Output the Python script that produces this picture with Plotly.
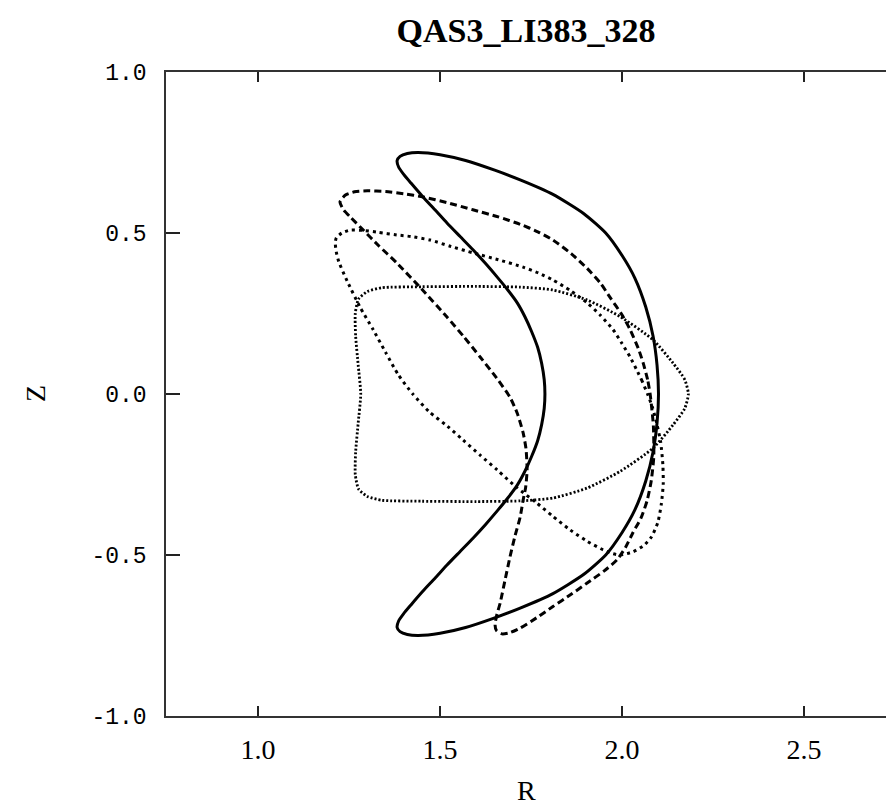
import plotly.graph_objects as go

title_text = "QAS3_LI383_328"
x_label = "R"
y_label = "Z"
x_ticks = [1.0, 1.5, 2.0, 2.5]
x_ticklabels = ["1.0", "1.5", "2.0", "2.5"]
y_ticks = [-1.0, -0.5, 0.0, 0.5, 1.0]
y_ticklabels = ["-1.0", "-0.5", "0.0", "0.5", "1.0"]

# phi = 0 cross-section (solid crescent)
r_solid = [2.100, 2.096, 2.085, 2.065, 2.035, 2.000, 1.955, 1.895, 1.810, 1.720, 1.650, 1.570,
           1.500, 1.440, 1.410, 1.390, 1.382, 1.386, 1.400, 1.420, 1.453, 1.486, 1.519, 1.555,
           1.591, 1.625, 1.657, 1.686, 1.712, 1.733, 1.751, 1.768, 1.779, 1.786, 1.788,
           1.786, 1.779, 1.768, 1.751, 1.733, 1.712, 1.686, 1.657, 1.625, 1.591, 1.555, 1.519,
           1.486, 1.453, 1.420, 1.400, 1.386, 1.382, 1.390, 1.410, 1.440, 1.500, 1.570, 1.650,
           1.720, 1.810, 1.895, 1.955, 2.000, 2.035, 2.065, 2.085, 2.096, 2.100]
z_solid = [0.000, 0.090, 0.180, 0.270, 0.360, 0.430, 0.500, 0.560, 0.620, 0.665, 0.695, 0.725,
           0.743, 0.750, 0.747, 0.738, 0.725, 0.705, 0.682, 0.655, 0.612, 0.572, 0.531, 0.489,
           0.447, 0.405, 0.363, 0.323, 0.283, 0.240, 0.195, 0.145, 0.095, 0.045, 0.000,
           -0.045, -0.095, -0.145, -0.195, -0.240, -0.283, -0.323, -0.363, -0.405, -0.447, -0.489, -0.531,
           -0.572, -0.612, -0.655, -0.682, -0.705, -0.725, -0.738, -0.747, -0.750, -0.743, -0.725, -0.695,
           -0.665, -0.620, -0.560, -0.500, -0.430, -0.360, -0.270, -0.180, -0.090, 0.000]

# second cross-section (long dashes)
r_dash = [2.077, 2.070, 2.058, 2.045, 2.022, 2.000, 1.967, 1.940, 1.904, 1.860, 1.810, 1.770,
          1.720, 1.660, 1.590, 1.520, 1.453, 1.400, 1.350, 1.300, 1.265, 1.240, 1.225, 1.234,
          1.255, 1.289, 1.330, 1.381, 1.450, 1.519, 1.565, 1.610, 1.655, 1.692, 1.712, 1.728,
          1.736, 1.739, 1.735, 1.728, 1.720, 1.706, 1.692, 1.678, 1.665, 1.655, 1.651, 1.655,
          1.670, 1.690, 1.720, 1.765, 1.810, 1.860, 1.904, 1.950, 1.986, 2.010, 2.030, 2.052,
          2.069, 2.080, 2.087, 2.086, 2.082, 2.077]
z_dash = [0.000, 0.045, 0.096, 0.140, 0.200, 0.245, 0.300, 0.345, 0.390, 0.436, 0.478, 0.503,
          0.527, 0.550, 0.572, 0.594, 0.612, 0.622, 0.629, 0.631, 0.628, 0.618, 0.597, 0.573,
          0.548, 0.509, 0.462, 0.407, 0.325, 0.239, 0.178, 0.115, 0.050, -0.010, -0.060, -0.120,
          -0.170, -0.236, -0.290, -0.330, -0.382, -0.440, -0.506, -0.580, -0.649, -0.690, -0.717, -0.735,
          -0.745, -0.742, -0.727, -0.695, -0.660, -0.622, -0.587, -0.550, -0.515, -0.475, -0.430, -0.385,
          -0.330, -0.270, -0.195, -0.100, -0.050, 0.000]

# third cross-section (short dashes)
r_sdash = [2.070, 2.055, 2.040, 2.022, 1.998, 1.975, 1.940, 1.904, 1.857, 1.810, 1.770, 1.728,
           1.660, 1.591, 1.530, 1.473, 1.420, 1.381, 1.330, 1.290, 1.253, 1.230, 1.215, 1.212,
           1.215, 1.222, 1.245, 1.280, 1.316, 1.350, 1.385, 1.425, 1.470, 1.520, 1.563, 1.610,
           1.657, 1.710, 1.766, 1.810, 1.857, 1.905, 1.948, 1.975, 1.995, 2.030, 2.060, 2.080,
           2.098, 2.108, 2.113, 2.112, 2.106, 2.095, 2.083, 2.070]
z_sdash = [0.000, 0.040, 0.075, 0.115, 0.160, 0.200, 0.245, 0.283, 0.322, 0.354, 0.376, 0.394,
           0.417, 0.438, 0.458, 0.478, 0.489, 0.494, 0.502, 0.508, 0.509, 0.500, 0.485, 0.470,
           0.440, 0.410, 0.350, 0.270, 0.200, 0.130, 0.060, 0.000, -0.055, -0.100, -0.143, -0.190,
           -0.236, -0.290, -0.339, -0.380, -0.422, -0.458, -0.484, -0.496, -0.500, -0.490, -0.470, -0.445,
           -0.400, -0.340, -0.280, -0.220, -0.150, -0.090, -0.040, 0.000]

# half-period cross-section (dotted triangle)
r_dot = [2.182, 2.172, 2.140, 2.085, 1.995, 1.904, 1.810, 1.720, 1.600, 1.450, 1.340, 1.300,
         1.276, 1.267, 1.268, 1.275, 1.282, 1.275, 1.268, 1.267, 1.276, 1.300, 1.340, 1.450,
         1.600, 1.720, 1.810, 1.904, 1.995, 2.085, 2.140, 2.172, 2.182]
z_dot = [0.000, 0.045, 0.096, 0.168, 0.240, 0.292, 0.323, 0.332, 0.334, 0.333, 0.330, 0.318,
         0.295, 0.250, 0.180, 0.090, 0.000, -0.090, -0.180, -0.250, -0.295, -0.318, -0.330, -0.333,
         -0.334, -0.332, -0.323, -0.292, -0.240, -0.168, -0.096, -0.045, 0.000]

fig = go.Figure()
series = [
    (r_solid, z_solid, "solid", 3),
    (r_dash, z_dash, "7px,4px", 3),
    (r_sdash, z_sdash, "3px,4px", 3),
    (r_dot, z_dot, "2px,2px", 2.8),
]
for r, z, dash, w in series:
    fig.add_trace(go.Scatter(x=r, y=z, mode="lines",
                             line=dict(color="black", width=w, dash=dash, shape="spline", smoothing=0.6),
                             showlegend=False, hoverinfo="skip"))

fig.update_layout(
    width=886, height=806,
    margin=dict(l=166, r=0, t=72, b=90),
    paper_bgcolor="white", plot_bgcolor="white",
    title=dict(text=title_text, x=0.5, xref="paper", y=776/806, yref="container",
               yanchor="middle",
               font=dict(family="Liberation Serif, Times New Roman, serif", size=34,
                         color="black", weight="bold")),
    showlegend=False,
)
fig.update_xaxes(range=[0.747, 2.725], tickvals=x_ticks, ticktext=x_ticklabels,
                 ticks="inside", ticklen=10, tickwidth=1.5, tickcolor="#222",
                 showline=True, linecolor="#333", linewidth=1.5, mirror="ticks",
                 showgrid=False, zeroline=False,
                 tickfont=dict(family="Liberation Serif", size=28, color="black"),
                 ticklabelstandoff=8)
fig.update_yaxes(range=[-1.0, 1.0], tickvals=y_ticks, ticktext=y_ticklabels,
                 ticks="inside", ticklen=14, tickwidth=1.5, tickcolor="#222",
                 showline=True, linecolor="#333", linewidth=1.5, mirror=False,
                 showgrid=False, zeroline=False,
                 tickfont=dict(family="Liberation Mono", size=23, color="black"),
                 ticklabelstandoff=13)
fig.add_annotation(text=x_label, xref="paper", yref="paper", x=0.5, y=(716 - 790) / 644,
                   showarrow=False, xanchor="center", yanchor="middle",
                   font=dict(family="Liberation Serif", size=28, color="black"))
fig.add_annotation(text=y_label, xref="paper", yref="paper", x=(35 - 166) / 720, y=0.5,
                   showarrow=False, xanchor="center", yanchor="middle", textangle=-90,
                   font=dict(family="Liberation Serif", size=28, color="black"))

fig.write_html("out.html")
